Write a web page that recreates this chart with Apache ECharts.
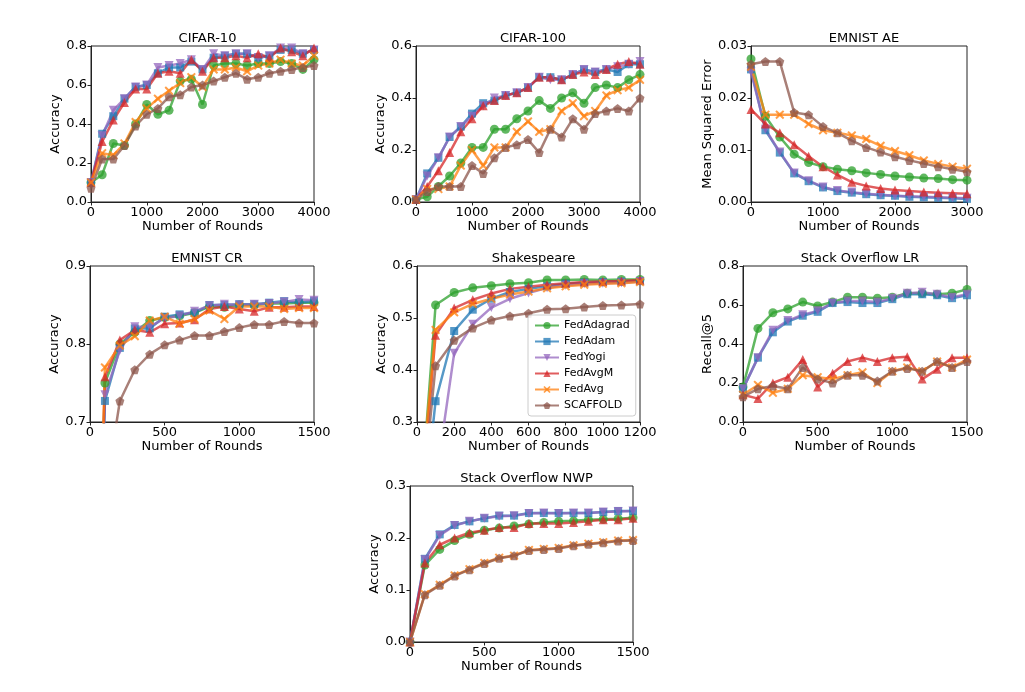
<!DOCTYPE html>
<html>
<head>
<meta charset="utf-8">
<script src="https://cdn.jsdelivr.net/npm/echarts@6/dist/echarts.min.js"></script>
<style>
html,body{margin:0;padding:0;background:#fff;}
#chart{width:1025px;height:692px;}
</style>
</head>
<body>
<div id="chart"></div>
<script>
// ---------- series names / styling ----------
const methods = ['FedAdagrad','FedAdam','FedYogi','FedAvgM','FedAvg','SCAFFOLD'];
const colors = ['#2ca02c','#1f77b4','#9467bd','#d62728','#ff7f0e','#8c564b'];

// ---------- CIFAR-10 ----------
const cifar10Rounds = [0,200,400,600,800,1000,1200,1400,1600,1800,2000,2200,2400,2600,2800,3000,3200,3400,3600,3800,4000];
const cifar10FedAdagrad = [0.10,0.14,0.30,0.29,0.40,0.50,0.45,0.47,0.62,0.63,0.50,0.70,0.71,0.71,0.70,0.71,0.71,0.72,0.71,0.68,0.73];
const cifar10FedAdam    = [0.10,0.35,0.44,0.53,0.59,0.60,0.66,0.69,0.69,0.72,0.68,0.74,0.75,0.76,0.76,0.74,0.75,0.78,0.78,0.76,0.78];
const cifar10FedYogi    = [0.10,0.34,0.47,0.53,0.59,0.60,0.69,0.70,0.71,0.73,0.68,0.76,0.75,0.76,0.76,0.74,0.75,0.79,0.79,0.76,0.78];
const cifar10FedAvgM    = [0.10,0.31,0.42,0.51,0.58,0.58,0.66,0.67,0.66,0.73,0.67,0.74,0.74,0.75,0.74,0.76,0.74,0.79,0.77,0.75,0.79];
const cifar10FedAvg     = [0.10,0.25,0.24,0.30,0.41,0.48,0.53,0.57,0.61,0.64,0.59,0.68,0.68,0.69,0.67,0.70,0.71,0.73,0.71,0.70,0.75];
const cifar10SCAFFOLD   = [0.07,0.22,0.22,0.29,0.39,0.45,0.48,0.54,0.55,0.59,0.60,0.62,0.64,0.66,0.63,0.64,0.66,0.67,0.68,0.69,0.70];

// ---------- CIFAR-100 ----------
const cifar100Rounds = [0,200,400,600,800,1000,1200,1400,1600,1800,2000,2200,2400,2600,2800,3000,3200,3400,3600,3800,4000];
const cifar100FedAdagrad = [0.01,0.02,0.06,0.10,0.15,0.21,0.21,0.28,0.28,0.32,0.35,0.39,0.36,0.40,0.42,0.38,0.44,0.45,0.44,0.47,0.49];
const cifar100FedAdam    = [0.01,0.11,0.17,0.25,0.29,0.34,0.38,0.39,0.41,0.42,0.44,0.48,0.48,0.47,0.49,0.51,0.50,0.51,0.50,0.53,0.53];
const cifar100FedYogi    = [0.01,0.10,0.17,0.25,0.29,0.33,0.37,0.40,0.41,0.42,0.44,0.48,0.47,0.47,0.49,0.51,0.50,0.51,0.52,0.53,0.54];
const cifar100FedAvgM    = [0.01,0.06,0.12,0.19,0.27,0.32,0.37,0.39,0.41,0.42,0.44,0.48,0.48,0.47,0.49,0.50,0.49,0.51,0.53,0.54,0.53];
const cifar100FedAvg     = [0.01,0.05,0.05,0.06,0.14,0.20,0.14,0.21,0.21,0.27,0.31,0.27,0.28,0.35,0.38,0.33,0.35,0.41,0.43,0.44,0.47];
const cifar100SCAFFOLD   = [0.01,0.04,0.06,0.06,0.06,0.14,0.11,0.17,0.21,0.22,0.24,0.19,0.28,0.25,0.32,0.28,0.34,0.35,0.36,0.35,0.40];

// ---------- EMNIST AE ----------
const aeRounds = [0,200,400,600,800,1000,1200,1400,1600,1800,2000,2200,2400,2600,2800,3000];
const aeFedAdagrad = [0.0275,0.0165,0.0125,0.0092,0.0076,0.0068,0.0063,0.0060,0.0056,0.0053,0.0050,0.0048,0.0046,0.0045,0.0043,0.0042];
const aeFedAdam    = [0.0255,0.0138,0.0095,0.0055,0.0040,0.0028,0.0021,0.0018,0.0015,0.0013,0.0012,0.0010,0.0009,0.0008,0.0007,0.0006];
const aeFedYogi    = [0.0250,0.0140,0.0096,0.0056,0.0041,0.0029,0.0022,0.0019,0.0016,0.0014,0.0012,0.0011,0.0010,0.0009,0.0008,0.0007];
const aeFedAvgM    = [0.0178,0.0150,0.0133,0.0110,0.0088,0.0068,0.0052,0.0038,0.0031,0.0026,0.0023,0.0021,0.0019,0.0018,0.0017,0.0016];
const aeFedAvg     = [0.0260,0.0168,0.0168,0.0168,0.0150,0.0138,0.0133,0.0128,0.0121,0.0108,0.0098,0.0090,0.0080,0.0073,0.0068,0.0064];
const aeSCAFFOLD   = [0.0265,0.0270,0.0270,0.0172,0.0168,0.0145,0.0133,0.0118,0.0105,0.0096,0.0087,0.0080,0.0074,0.0068,0.0063,0.0058];

// ---------- EMNIST CR ----------
const crRounds = [0,100,200,300,400,500,600,700,800,900,1000,1100,1200,1300,1400,1500];
const crFedAdagrad = [0.05,0.750,0.800,0.815,0.830,0.834,0.836,0.840,0.848,0.847,0.850,0.850,0.852,0.852,0.853,0.853];
const crFedAdam    = [0.05,0.727,0.795,0.820,0.820,0.835,0.838,0.840,0.850,0.850,0.851,0.851,0.853,0.855,0.853,0.855];
const crFedYogi    = [0.05,0.735,0.792,0.822,0.822,0.833,0.836,0.842,0.849,0.851,0.850,0.851,0.852,0.854,0.857,0.856];
const crFedAvgM    = [0.05,0.758,0.805,0.818,0.815,0.826,0.827,0.831,0.845,0.848,0.845,0.842,0.847,0.847,0.848,0.848];
const crFedAvg     = [0.05,0.770,0.798,0.810,0.830,0.835,0.826,0.832,0.843,0.832,0.848,0.848,0.848,0.845,0.846,0.846];
const crSCAFFOLD   = [0.03,0.604,0.727,0.767,0.787,0.799,0.805,0.811,0.811,0.816,0.821,0.825,0.825,0.829,0.827,0.827];

// ---------- Shakespeare ----------
const shRounds = [0,100,200,300,400,500,600,700,800,900,1000,1100,1200];
const shFedAdagrad = [0.05,0.525,0.549,0.558,0.562,0.566,0.568,0.573,0.573,0.574,0.573,0.574,0.574];
const shFedAdam    = [0.01,0.340,0.475,0.516,0.537,0.550,0.556,0.561,0.566,0.568,0.569,0.570,0.571];
const shFedYogi    = [0.01,0.183,0.432,0.488,0.520,0.537,0.548,0.558,0.563,0.566,0.567,0.568,0.570];
const shFedAvgM    = [0.05,0.467,0.519,0.535,0.547,0.556,0.560,0.564,0.567,0.569,0.570,0.571,0.573];
const shFedAvg     = [0.09,0.477,0.511,0.527,0.537,0.545,0.551,0.557,0.561,0.564,0.566,0.567,0.569];
const shSCAFFOLD   = [0.05,0.408,0.457,0.481,0.496,0.504,0.509,0.517,0.518,0.521,0.524,0.525,0.527];

// ---------- Stack Overflow LR ----------
const lrRounds = [0,100,200,300,400,500,600,700,800,900,1000,1100,1200,1300,1400,1500];
const lrFedAdagrad = [0.18,0.48,0.56,0.58,0.615,0.595,0.615,0.64,0.64,0.635,0.64,0.66,0.66,0.655,0.66,0.68];
const lrFedAdam    = [0.17,0.33,0.46,0.515,0.545,0.565,0.61,0.615,0.61,0.61,0.63,0.655,0.655,0.65,0.635,0.65];
const lrFedYogi    = [0.17,0.33,0.47,0.52,0.55,0.57,0.61,0.62,0.62,0.615,0.635,0.66,0.665,0.655,0.64,0.655];
const lrFedAvgM    = [0.14,0.12,0.20,0.23,0.32,0.18,0.25,0.31,0.33,0.31,0.33,0.335,0.22,0.27,0.33,0.33];
const lrFedAvg     = [0.14,0.19,0.15,0.17,0.24,0.23,0.22,0.24,0.255,0.20,0.26,0.28,0.26,0.31,0.28,0.32];
const lrSCAFFOLD   = [0.13,0.17,0.185,0.17,0.28,0.22,0.20,0.24,0.24,0.21,0.26,0.275,0.26,0.31,0.28,0.31];

// ---------- Stack Overflow NWP ----------
const nwpRounds = [0,100,200,300,400,500,600,700,800,900,1000,1100,1200,1300,1400,1500];
const nwpFedAdagrad = [0.0,0.148,0.178,0.195,0.207,0.215,0.219,0.223,0.227,0.230,0.232,0.233,0.235,0.236,0.237,0.239];
const nwpFedAdam    = [0.0,0.160,0.207,0.225,0.232,0.238,0.243,0.243,0.248,0.248,0.248,0.248,0.248,0.250,0.252,0.252];
const nwpFedYogi    = [0.0,0.158,0.205,0.224,0.232,0.238,0.242,0.243,0.247,0.248,0.247,0.248,0.248,0.250,0.251,0.252];
const nwpFedAvgM    = [0.0,0.152,0.187,0.200,0.210,0.215,0.220,0.220,0.228,0.228,0.228,0.230,0.232,0.235,0.235,0.238];
const nwpFedAvg     = [0.0,0.092,0.110,0.128,0.140,0.152,0.162,0.166,0.177,0.179,0.181,0.186,0.189,0.192,0.195,0.196];
const nwpSCAFFOLD   = [0.0,0.091,0.109,0.127,0.139,0.151,0.161,0.166,0.176,0.178,0.180,0.185,0.188,0.191,0.194,0.195];

// ---------- panels ----------
const panels = [
  {title:'CIFAR-10', rounds:cifar10Rounds, data:[cifar10FedAdagrad,cifar10FedAdam,cifar10FedYogi,cifar10FedAvgM,cifar10FedAvg,cifar10SCAFFOLD],
   xMax:4000, xInt:1000, yMin:0, yMax:0.8, yInt:0.2, dec:1, yName:'Accuracy', gap:25, grid:{left:91, top:46, width:223, height:156}},
  {title:'CIFAR-100', rounds:cifar100Rounds, data:[cifar100FedAdagrad,cifar100FedAdam,cifar100FedYogi,cifar100FedAvgM,cifar100FedAvg,cifar100SCAFFOLD],
   xMax:4000, xInt:1000, yMin:0, yMax:0.6, yInt:0.2, dec:1, yName:'Accuracy', gap:26, grid:{left:416, top:46, width:224, height:156}},
  {title:'EMNIST AE', rounds:aeRounds, data:[aeFedAdagrad,aeFedAdam,aeFedYogi,aeFedAvgM,aeFedAvg,aeSCAFFOLD],
   xMax:3000, xInt:1000, yMin:0, yMax:0.03, yInt:0.01, dec:2, yName:'Mean Squared Error', gap:34, grid:{left:751, top:46, width:216, height:156}},
  {title:'EMNIST CR', rounds:crRounds, data:[crFedAdagrad,crFedAdam,crFedYogi,crFedAvgM,crFedAvg,crSCAFFOLD],
   xMax:1500, xInt:500, yMin:0.7, yMax:0.9, yInt:0.1, dec:1, yName:'Accuracy', gap:25, grid:{left:90, top:266, width:224, height:156}},
  {title:'Shakespeare', rounds:shRounds, data:[shFedAdagrad,shFedAdam,shFedYogi,shFedAvgM,shFedAvg,shSCAFFOLD],
   xMax:1200, xInt:200, yMin:0.3, yMax:0.6, yInt:0.1, dec:1, yName:'Accuracy', gap:27, grid:{left:417, top:266, width:223, height:156}},
  {title:'Stack Overflow LR', rounds:lrRounds, data:[lrFedAdagrad,lrFedAdam,lrFedYogi,lrFedAvgM,lrFedAvg,lrSCAFFOLD],
   xMax:1500, xInt:500, yMin:0, yMax:0.8, yInt:0.2, dec:1, yName:'Recall@5', gap:27, grid:{left:743, top:266, width:224, height:156}},
  {title:'Stack Overflow NWP', rounds:nwpRounds, data:[nwpFedAdagrad,nwpFedAdam,nwpFedYogi,nwpFedAvgM,nwpFedAvg,nwpSCAFFOLD],
   xMax:1500, xInt:500, yMin:0, yMax:0.3, yInt:0.1, dec:1, yName:'Accuracy', gap:27, grid:{left:410, top:486, width:223, height:156}}
];

const X_SYM = 'path://M1.5,0 L5,3.2 L8.5,0 L10,1.5 L6.8,5 L10,8.5 L8.5,10 L5,6.8 L1.5,10 L0,8.5 L3.2,5 L0,1.5 Z';
const PENT = 'path://M5,0 L10,3.7 L8.1,9.5 L1.9,9.5 L0,3.7 Z';
const symbols = ['circle','rect','triangle','triangle',X_SYM,PENT];
const symRot  = [0,0,180,0,0,0];
const symSize = [9,8,9,9,9,9];

const FONT = 'DejaVu Sans';
const grids=[], xAxes=[], yAxes=[], titles=[], series=[];

panels.forEach((p,i)=>{
  grids.push(Object.assign({show:true, borderColor:'#222', borderWidth:1, containLabel:false}, p.grid));
  titles.push({text:p.title, left:p.grid.left + p.grid.width/2, top:p.grid.top-19, textAlign:'center',
    textStyle:{fontFamily:FONT, fontSize:13, fontWeight:'normal', color:'#000'}});
  xAxes.push({type:'value', gridIndex:i, min:0, max:p.xMax, interval:p.xInt,
    name:'Number of Rounds', nameLocation:'middle', nameGap:17,
    nameTextStyle:{fontFamily:FONT, fontSize:13, color:'#000'},
    axisLine:{show:true, onZero:false, lineStyle:{color:'#222'}},
    axisTick:{show:true, length:3.5, lineStyle:{color:'#222'}},
    axisLabel:{fontFamily:FONT, fontSize:13, color:'#000', margin:4, formatter:v=>String(Math.round(v))},
    splitLine:{show:false}});
  yAxes.push({type:'value', gridIndex:i, min:p.yMin, max:p.yMax, interval:p.yInt,
    name:p.yName, nameLocation:'middle', nameRotate:90, nameGap:p.gap,
    nameTextStyle:{fontFamily:FONT, fontSize:13, color:'#000'},
    axisLine:{show:true, onZero:false, lineStyle:{color:'#222'}},
    axisTick:{show:true, length:3.5, lineStyle:{color:'#222'}},
    axisLabel:{fontFamily:FONT, fontSize:13, color:'#000', margin:4, formatter:v=>v.toFixed(p.dec)},
    splitLine:{show:false}});
  methods.forEach((m,k)=>{
    series.push({
      name:m, type:'line', xAxisIndex:i, yAxisIndex:i,
      data:p.rounds.map((r,j)=>[r,p.data[k][j]]),
      symbol:symbols[k], symbolRotate:symRot[k], symbolSize:symSize[k], showAllSymbol:true,
      clip:true, animation:false,
      lineStyle:{color:colors[k], width:2.5, opacity:0.75},
      itemStyle:{color:colors[k], opacity:0.75, borderWidth:0},
      emphasis:{disabled:true}
    });
  });
});

const chart = echarts.init(document.getElementById('chart'), null, {renderer:'canvas'});
chart.setOption({
  backgroundColor:'#fff',
  animation:false,
  title:titles,
  grid:grids,
  xAxis:xAxes,
  yAxis:yAxes,
  legend:{
    data:methods, orient:'vertical', left:528, top:315,
    backgroundColor:'rgba(255,255,255,0.85)', borderColor:'#ccc', borderWidth:1, borderRadius:3,
    padding:[5,6,5,6], itemGap:5, itemWidth:24, itemHeight:9,
    textStyle:{fontFamily:FONT, fontSize:11, color:'#000'},
    selectedMode:false
  },
  series:series
});
</script>
</body>
</html>
